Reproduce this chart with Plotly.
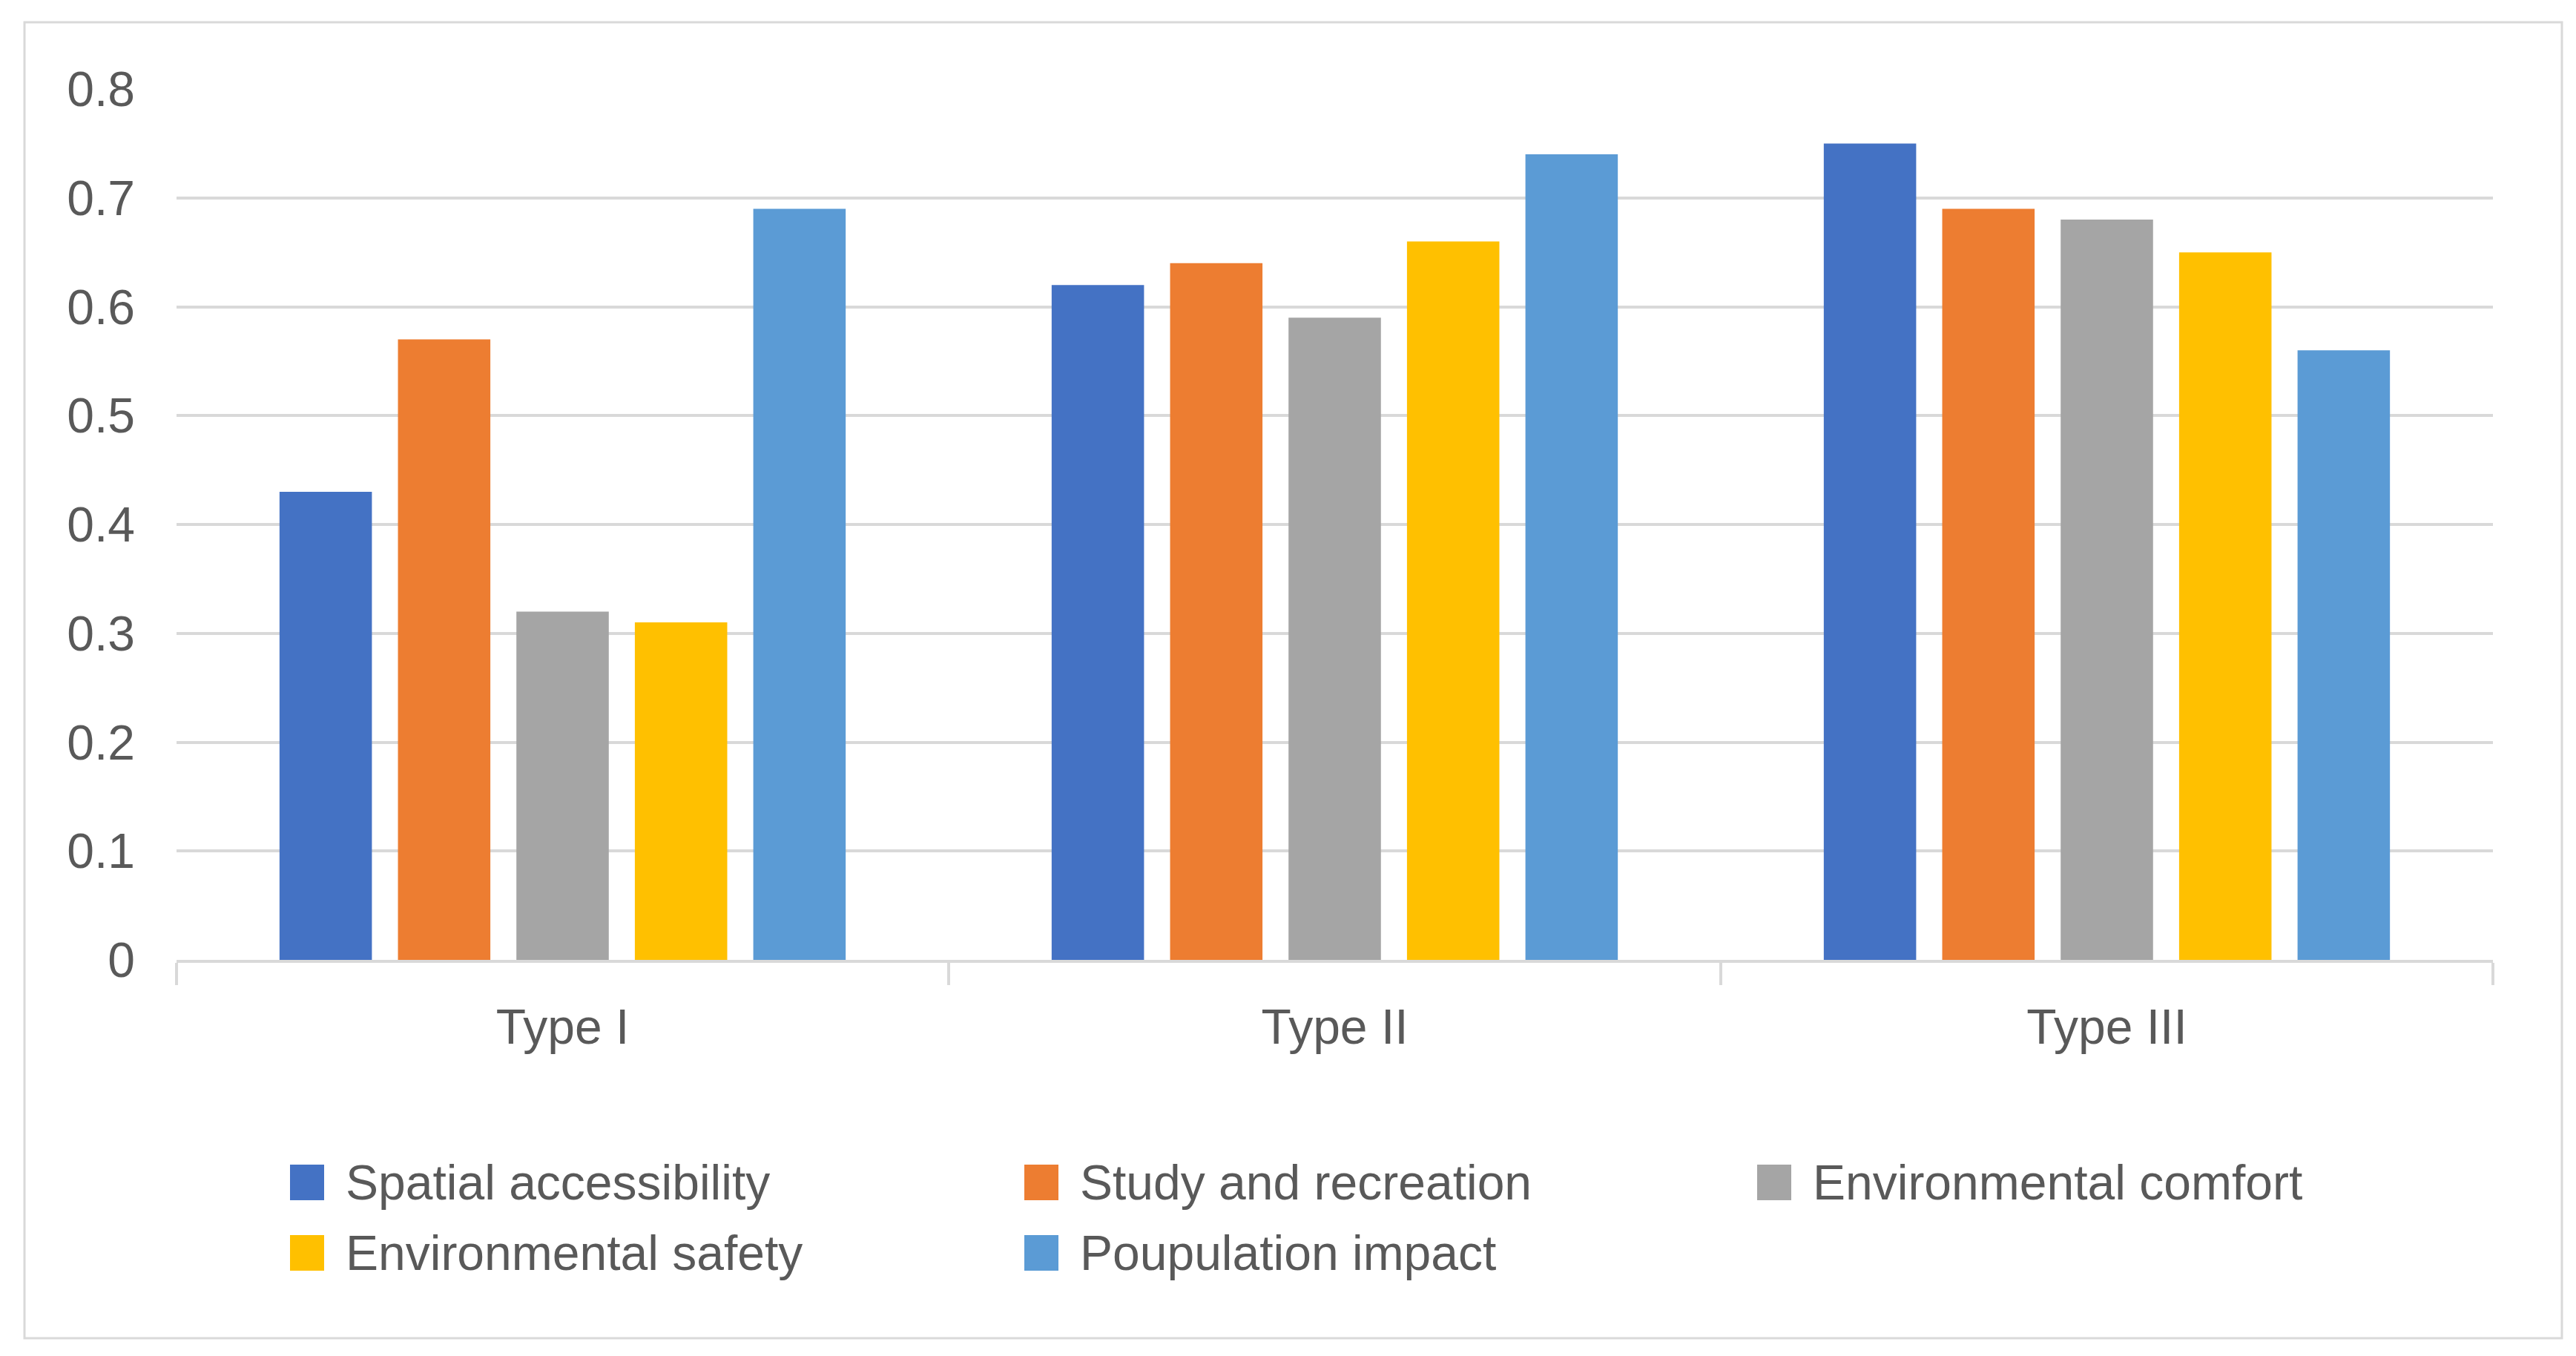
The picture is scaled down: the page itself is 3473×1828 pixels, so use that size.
import plotly.graph_objects as go

categories = ["Type I", "Type II", "Type III"]
series_names = ["Spatial accessibility", "Study and recreation", "Environmental comfort",
                "Environmental safety", "Poupulation impact"]
spatial_accessibility = [0.43, 0.62, 0.75]
study_and_recreation = [0.57, 0.64, 0.69]
environmental_comfort = [0.32, 0.59, 0.68]
environmental_safety = [0.31, 0.66, 0.65]
population_impact = [0.69, 0.74, 0.56]
series_values = [spatial_accessibility, study_and_recreation, environmental_comfort,
                 environmental_safety, population_impact]
colors = ["#4472C4", "#ED7D31", "#A5A5A5", "#FFC000", "#5B9BD5"]
y_tickvals = [0, 0.1, 0.2, 0.3, 0.4, 0.5, 0.6, 0.7, 0.8]
y_ticktext = ["0", "0.1", "0.2", "0.3", "0.4", "0.5", "0.6", "0.7", "0.8"]

W, H = 3473, 1828
L, R, T, B = 230, 120, 112, 542
PW, PH = W - L - R, H - T - B
FONT = "Liberation Sans"
TXT = "#595959"
GRID = "#D9D9D9"

def px_x(px):
    return (px - L) / PW

def px_y(py):
    return (H - B - py) / PH

fig = go.Figure()
for name, vals, c in zip(series_names, series_values, colors):
    fig.add_trace(go.Bar(x=categories, y=vals, name=name, marker_color=c,
                         marker_line_width=0, showlegend=False))

# custom legend (large square swatches like the original)
leg_cols = [383, 1373, 2361]
leg_rows = [1586, 1681]
shapes = []
annotations = []
for i, (name, c) in enumerate(zip(series_names, colors)):
    r, k = divmod(i, 3)
    xa = px_x(leg_cols[k])
    ya = px_y(leg_rows[r])
    shapes.append(dict(type="rect", xref="paper", yref="paper",
                       xsizemode="pixel", ysizemode="pixel",
                       xanchor=xa, yanchor=ya, x0=0, x1=46, y0=-24, y1=24,
                       fillcolor=c, line_width=0))
    annotations.append(dict(xref="paper", yref="paper", x=px_x(leg_cols[k] + 73), y=ya,
                            xanchor="left", yanchor="middle", showarrow=False,
                            text=name, font=dict(family=FONT, size=66, color=TXT)))

# outer chart border
shapes.append(dict(type="rect", xref="paper", yref="paper",
                   x0=px_x(25), x1=px_x(3446), y0=px_y(1796), y1=px_y(22),
                   line=dict(color=GRID, width=3), fillcolor="rgba(0,0,0,0)", layer="below"))

fig.update_layout(
    width=W, height=H,
    margin=dict(l=L, r=R, t=T, b=B),
    paper_bgcolor="white", plot_bgcolor="white",
    barmode="group", bargap=0.233, bargroupgap=0.22,
    font=dict(family=FONT, size=66, color=TXT),
    shapes=shapes, annotations=annotations,
    showlegend=False,
)
fig.update_xaxes(showline=True, linecolor=GRID, linewidth=4,
                 ticks="outside", tickson="boundaries", ticklen=30, tickwidth=4, tickcolor=GRID,
                 tickfont=dict(family=FONT, size=66, color=TXT), ticklabelstandoff=30,
                 showgrid=False)
fig.update_yaxes(range=[0, 0.8], tickvals=y_tickvals, ticktext=y_ticktext,
                 showgrid=True, gridcolor=GRID, gridwidth=4, zeroline=False, showline=False,
                 ticks="", tickfont=dict(family=FONT, size=66, color=TXT), ticklabelstandoff=55)

fig.write_html("out.html")
